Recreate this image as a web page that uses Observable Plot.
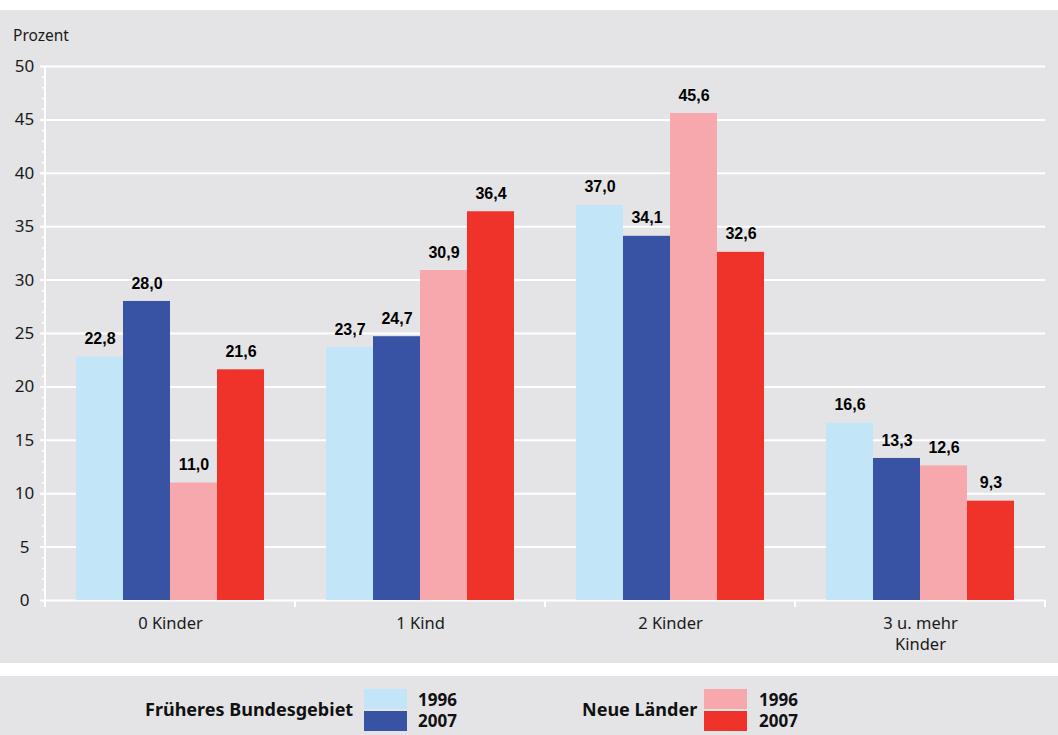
<!DOCTYPE html>
<html>
<head>
<meta charset="utf-8">
<script src="https://cdn.jsdelivr.net/npm/d3@7"></script>
<script src="https://cdn.jsdelivr.net/npm/@observablehq/plot@0.6"></script>
<style>
  body { margin: 0; background: #ffffff; font-family: "Noto Sans", sans-serif; }
  #wrap { position: relative; width: 1058px; height: 735px; }
  #chart { position: absolute; top: 10px; left: 0; width: 1058px; height: 653px; background: #e4e4e6; }
  #unit { position: absolute; left: 13px; top: 14px; font-size: 15.5px; color: #1a1a1a; }
  #legend { position: absolute; top: 676px; left: 0; width: 1058px; height: 59px; background: #e4e4e6; }
  .lt { position: absolute; top: 21px; font-weight: 700; font-size: 18px; color: #111; white-space: nowrap; }
  .sw { position: absolute; width: 43px; height: 20px; }
  .yr { position: absolute; font-weight: 700; font-size: 17px; color: #111; line-height: 20px; }
</style>
</head>
<body>
<div id="wrap">
  <div id="chart"><div id="unit">Prozent</div></div>
  <div id="legend"></div>
</div>
<script>
// Anteil der Familien nach Kinderzahl, Früheres Bundesgebiet und Neue Länder, 1996 und 2007
const categories = ["0 Kinder", "1 Kind", "2 Kinder", "3 u. mehr\nKinder"];
const seriesKeys = ["Früheres Bundesgebiet 1996", "Früheres Bundesgebiet 2007", "Neue Länder 1996", "Neue Länder 2007"];
const west1996 = [22.8, 23.7, 37.0, 16.6];
const west2007 = [28.0, 24.7, 34.1, 13.3];
const ost1996 = [11.0, 30.9, 45.6, 12.6];
const ost2007 = [21.6, 36.4, 32.6, 9.3];
const seriesColors = ["#c2e6f8", "#3953a4", "#f7a8ad", "#ef322a"];
const yTicks = [0, 5, 10, 15, 20, 25, 30, 35, 40, 45, 50];
const yMinorTicks = d3.range(0, 51, 1);

const seriesValues = [west1996, west2007, ost1996, ost2007];
const rows = [];
categories.forEach((c, i) => {
  seriesKeys.forEach((s, j) => rows.push({category: c, series: s, value: seriesValues[j][i]}));
});
const fmt = v => v.toFixed(1).replace(".", ",");

const chart = Plot.plot({
  width: 1058,
  height: 653,
  marginTop: 56,
  marginBottom: 63,
  marginLeft: 45,
  marginRight: 13,
  style: {background: "transparent", fontFamily: "Noto Sans", fontSize: "16px", color: "#1a1a1a", overflow: "visible"},
  fx: {domain: categories, padding: 0, round: false, label: null},
  x: {domain: seriesKeys, paddingInner: 0, paddingOuter: 0.66, round: false, axis: null},
  y: {domain: [0, 50], label: null},
  color: {domain: seriesKeys, range: seriesColors},
  marks: [
    Plot.gridY(yTicks, {stroke: "white", strokeOpacity: 1, strokeWidth: 2}),
    Plot.axisY(yMinorTicks, {tickSize: 3, fill: "none", label: null, stroke: "white", strokeOpacity: 1, strokeWidth: 1.5}),
    Plot.axisY(yTicks, {tickSize: 5, fill: "none", label: null, stroke: "white", strokeOpacity: 1, strokeWidth: 2}),
    Plot.axisY(yTicks, {tickSize: 0, tickPadding: 21, textAnchor: "middle", fontSize: 17, label: null}),
    Plot.axisFx({anchor: "bottom", tickSize: 0, tickPadding: 13, fontSize: 16.5, lineHeight: 1.3, label: null}),
    Plot.barY(rows, {fx: "category", x: "series", y: "value", fill: "series"}),
    Plot.text(rows, {
      fx: "category", x: "series", y: "value",
      text: d => fmt(d.value),
      dy: -18,
      fontFamily: "Liberation Sans, Arial, sans-serif",
      fontWeight: "bold",
      fontSize: 16,
      fill: "#000"
    })
  ]
});

// White y-axis line and group separator ticks along the baseline
const fxs = chart.scale("fx");
const ys = chart.scale("y");
const svg = d3.select(chart);
const y0 = ys.apply(0);
const bounds = categories.map(c => fxs.apply(c)).concat([fxs.apply(categories[categories.length - 1]) + fxs.bandwidth]);
const g = svg.append("g").attr("stroke", "white").attr("stroke-width", 2);
g.append("line").attr("x1", bounds[0]).attr("x2", bounds[0]).attr("y1", ys.apply(50)).attr("y2", y0 + 7);
g.selectAll(".sep").data(bounds).join("line")
  .attr("x1", d => d).attr("x2", d => d).attr("y1", y0).attr("y2", y0 + 7);

document.getElementById("chart").appendChild(chart);
chart.style.position = "absolute";
chart.style.left = "0";
chart.style.top = "0";

// Legend
const legend = document.getElementById("legend");
const groups = [
  {title: "Früheres Bundesgebiet", titleX: 145, swatchX: 364, labelX: 418, keys: [0, 1]},
  {title: "Neue Länder", titleX: 582, swatchX: 704, labelX: 759, keys: [2, 3]}
];
const years = ["1996", "2007"];
groups.forEach(gr => {
  const t = document.createElement("div");
  t.className = "lt";
  t.style.left = gr.titleX + "px";
  t.textContent = gr.title;
  legend.appendChild(t);
  gr.keys.forEach((k, i) => {
    const sw = document.createElement("div");
    sw.className = "sw";
    sw.style.left = gr.swatchX + "px";
    sw.style.top = (13 + i * 22) + "px";
    sw.style.background = seriesColors[k];
    legend.appendChild(sw);
    const lb = document.createElement("div");
    lb.className = "yr";
    lb.style.left = gr.labelX + "px";
    lb.style.top = (14 + i * 21) + "px";
    lb.textContent = years[i];
    legend.appendChild(lb);
  });
});
</script>
</body>
</html>
